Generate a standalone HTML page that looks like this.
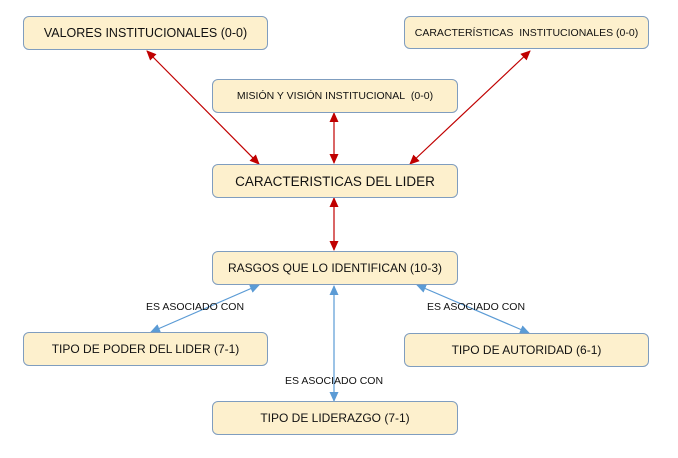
<!DOCTYPE html>
<html><head><style>
body{margin:0;width:678px;height:458px;background:#fff;position:relative;font-family:"Liberation Sans",Calibri,sans-serif;overflow:hidden}
.b{position:absolute;background:#fdf0cd;border:1px solid #7f9dbf;border-radius:6px;box-sizing:border-box;display:flex;align-items:center;justify-content:center;font-size:12px;color:#111;white-space:nowrap}
.l{position:absolute;font-size:10.5px;color:#111;white-space:nowrap}
svg{position:absolute;left:0;top:0}
</style></head><body>
<svg width="678" height="458">
<defs>
<marker id="r" markerWidth="10" markerHeight="10" refX="9" refY="5" orient="auto-start-reverse" markerUnits="userSpaceOnUse"><path d="M0,0.5L10,5L0,9.5z" fill="#c00000"/></marker>
<marker id="u" markerWidth="10" markerHeight="10" refX="9" refY="5" orient="auto-start-reverse" markerUnits="userSpaceOnUse"><path d="M0,0.5L10,5L0,9.5z" fill="#5b9bd5"/></marker>
</defs>
<g stroke="#c00000" stroke-width="1.2">
<line x1="147" y1="51" x2="259" y2="164" marker-start="url(#r)" marker-end="url(#r)"/>
<line x1="530" y1="51" x2="410" y2="164" marker-start="url(#r)" marker-end="url(#r)"/>
<line x1="334" y1="113" x2="334" y2="163" marker-start="url(#r)" marker-end="url(#r)"/>
<line x1="334" y1="198" x2="334" y2="250" marker-start="url(#r)" marker-end="url(#r)"/>
</g>
<g stroke="#5b9bd5" stroke-width="1.2">
<line x1="259" y1="285" x2="151" y2="332" marker-start="url(#u)" marker-end="url(#u)"/>
<line x1="334" y1="286" x2="334" y2="401" marker-start="url(#u)" marker-end="url(#u)"/>
<line x1="417" y1="285" x2="529" y2="333" marker-start="url(#u)" marker-end="url(#u)"/>
</g>
</svg>
<div class="b" style="left:23px;top:16px;width:245px;height:34px;font-size:12.5px">VALORES INSTITUCIONALES (0-0)</div>
<div class="b" style="left:404px;top:16px;width:245px;height:33px;font-size:10.5px">CARACTERÍSTICAS&nbsp; INSTITUCIONALES (0-0)</div>
<div class="b" style="left:212px;top:79px;width:246px;height:34px;font-size:10.5px">MISIÓN Y VISIÓN INSTITUCIONAL&nbsp; (0-0)</div>
<div class="b" style="left:212px;top:164px;width:246px;height:34px;font-size:13.5px">CARACTERISTICAS DEL LIDER</div>
<div class="b" style="left:212px;top:251px;width:246px;height:34px">RASGOS QUE LO IDENTIFICAN (10-3)</div>
<div class="b" style="left:23px;top:332px;width:245px;height:34px">TIPO DE PODER DEL LIDER (7-1)</div>
<div class="b" style="left:404px;top:333px;width:245px;height:34px">TIPO DE AUTORIDAD (6-1)</div>
<div class="b" style="left:212px;top:401px;width:246px;height:34px">TIPO DE LIDERAZGO (7-1)</div>
<div class="l" style="left:146px;top:301px">ES ASOCIADO CON</div>
<div class="l" style="left:427px;top:301px">ES ASOCIADO CON</div>
<div class="l" style="left:285px;top:375px">ES ASOCIADO CON</div>
</body></html>
